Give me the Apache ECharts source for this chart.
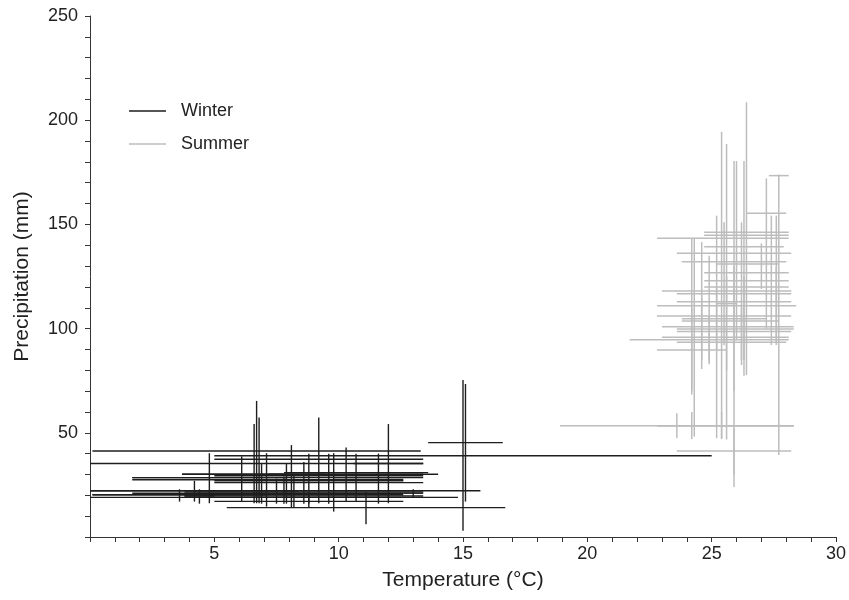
<!DOCTYPE html>
<html>
<head>
<meta charset="utf-8">
<script src="https://cdn.jsdelivr.net/npm/echarts@6/dist/echarts.min.js"></script>
<style>
  html, body { margin: 0; padding: 0; background: #fff; }
  #chart { width: 849px; height: 600px; }
</style>
</head>
<body>
<div id="chart"></div>
<script>
// winter: centre temperature / precipitation and their ranges
const winterTemp      = [15.1, 6.7, 15.0, 9.2, 6.8, 10.7, 8.8, 9.6, 7.1, 6.9, 8.6, 9.8, 8.1, 8.2, 7.5, 6.1, 7.8, 7.9, 11.1, 12.0, 11.6, 10.3, 4.8, 3.6, 4.2, 4.4, 13.0, 8.8, 6.6];
const winterPrecip    = [45.3, 41.3, 39.0, 37.3, 35.3, 30.9, 30.1, 29.4, 28.5, 27.5, 27.0, 26.1, 22.2, 21.6, 21.0, 20.3, 19.7, 19.0, 14.1, 35.3, 28.5, 30.1, 28.5, 20.3, 22.2, 19.7, 21.0, 17.1, 30.1];
const winterTempMin   = [13.6, 0.1, 5.0, 5.0, 0.0, 7.8, 3.7, 5.0, 1.7, 1.7, 5.0, 5.0, 0.0, 3.8, 1.7, 0.1, 3.8, 0.0, 5.5, 10.6, 9.8, 7.2, 1.7, 0.1, 0.0, 3.8, 12.6, 5.0, 3.7];
const winterTempMax   = [16.6, 13.3, 25.0, 13.4, 13.4, 13.6, 14.0, 13.4, 12.6, 12.6, 12.6, 13.4, 15.7, 13.4, 12.6, 12.6, 13.4, 14.8, 16.7, 13.4, 13.4, 13.4, 7.9, 7.1, 8.4, 5.0, 13.4, 12.6, 9.5];
const winterPrecipMin = [17.0, 16.2, 3.0, 16.2, 16.2, 17.0, 16.0, 16.0, 14.6, 16.0, 16.0, 12.2, 14.1, 14.0, 16.0, 17.0, 16.0, 16.0, 6.1, 16.2, 16.0, 17.0, 16.2, 17.0, 17.0, 16.0, 19.0, 14.0, 16.2];
const winterPrecipMax = [73.4, 65.3, 75.3, 57.4, 57.4, 40.0, 40.0, 40.0, 40.2, 35.0, 36.0, 40.2, 44.1, 30.0, 28.0, 38.7, 29.0, 35.0, 21.7, 54.2, 40.0, 43.0, 40.2, 22.9, 27.0, 22.9, 22.9, 20.0, 54.2];

// summer
const summerTemp      = [27.7, 26.4, 27.4, 27.6, 24.2, 27.0, 24.6, 24.9, 25.6, 27.2, 25.4, 25.9, 24.3, 25.2, 26.3, 25.5, 26.2, 26.0, 25.2, 26.3, 25.6, 24.6, 25.9, 26.2, 24.9, 27.6, 24.2, 23.6, 24.2, 25.4, 25.9];
const summerPrecip    = [173.4, 155.3, 146.2, 144.8, 143.3, 139.3, 136.1, 132.1, 131.0, 126.8, 123.0, 120.0, 118.0, 116.7, 112.9, 112.0, 111.0, 106.0, 104.7, 103.7, 100.9, 99.8, 98.6, 95.8, 94.7, 93.5, 89.7, 53.4, 53.4, 53.4, 41.3];
const summerTempMin   = [27.3, 26.4, 24.7, 24.7, 22.8, 24.7, 23.6, 23.8, 25.2, 24.7, 24.7, 24.7, 23.0, 23.6, 23.6, 25.2, 22.8, 22.8, 23.8, 23.8, 23.0, 23.6, 23.6, 23.0, 21.7, 23.6, 22.8, 18.9, 22.8, 22.8, 23.6];
const summerTempMax   = [28.1, 28.0, 28.1, 28.1, 28.1, 27.9, 28.2, 28.0, 27.7, 28.1, 28.1, 28.1, 28.2, 28.2, 28.2, 26.0, 28.4, 28.2, 27.2, 27.7, 28.3, 28.3, 28.2, 28.1, 28.1, 28.0, 25.6, 28.3, 28.3, 28.3, 28.2];
const summerPrecipMin = [39.3, 77.7, 92.1, 92.1, 68.4, 119.0, 80.6, 82.9, 46.8, 100.0, 47.4, 24.0, 48.2, 47.4, 77.4, 92.0, 82.5, 95.0, 90.0, 85.0, 80.0, 85.0, 70.0, 85.0, 84.0, 93.0, 70.0, 47.4, 47.0, 47.0, 30.0];
const summerPrecipMax = [174.0, 208.6, 154.2, 154.2, 143.3, 140.9, 141.5, 135.0, 188.6, 172.1, 194.5, 180.4, 143.3, 154.2, 180.4, 151.0, 151.0, 180.4, 120.0, 125.0, 125.0, 115.0, 130.0, 110.0, 106.0, 130.0, 110.0, 59.4, 60.0, 60.0, 52.0];

function buildData(t, p, tMin, tMax, pMin, pMax) {
  return t.map((v, i) => [v, p[i], tMin[i], tMax[i], pMin[i], pMax[i]]);
}

function renderCross(params, api) {
  const x = api.value(0);
  const y = api.value(1);
  const h1 = api.coord([api.value(2), y]);
  const h2 = api.coord([api.value(3), y]);
  const v1 = api.coord([x, api.value(4)]);
  const v2 = api.coord([x, api.value(5)]);
  const style = { stroke: api.visual('color'), lineWidth: params.seriesName === 'Winter' ? 1.4 : 1.5 };
  return {
    type: 'group',
    children: [
      { type: 'line', shape: { x1: h1[0], y1: h1[1], x2: h2[0], y2: h2[1] }, style: style },
      { type: 'line', shape: { x1: v1[0], y1: v1[1], x2: v2[0], y2: v2[1] }, style: style }
    ]
  };
}

const chart = echarts.init(document.getElementById('chart'));
const font = '"Liberation Sans", Arial, sans-serif';

const option = {
  animation: false,
  textStyle: { fontFamily: font },
  grid: { left: 90, right: 13, top: 16, bottom: 63 },
  legend: {
    data: ['Winter', 'Summer'],
    orient: 'vertical',
    left: 129,
    top: 102,
    padding: 0,
    itemWidth: 37,
    itemHeight: 1.5,
    itemGap: 15,
    icon: 'rect',
    textStyle: { fontSize: 18, color: '#222', fontFamily: font, padding: [0, 0, 0, 10] }
  },
  xAxis: {
    type: 'value',
    min: 0,
    max: 30,
    interval: 5,
    name: 'Temperature (°C)',
    nameLocation: 'middle',
    nameGap: 33,
    nameTextStyle: { fontSize: 21, color: '#222', fontFamily: font },
    axisLine: { lineStyle: { color: '#333', width: 1 } },
    axisTick: { length: 5, lineStyle: { color: '#333' } },
    minorTick: { show: true, splitNumber: 5, length: 5, lineStyle: { color: '#333' } },
    splitLine: { show: false },
    axisLabel: {
      fontSize: 18, color: '#222', margin: 8,
      formatter: v => (v === 0 ? '' : String(v))
    }
  },
  yAxis: {
    type: 'value',
    min: 0,
    max: 250,
    interval: 50,
    name: 'Precipitation (mm)',
    nameLocation: 'middle',
    nameGap: 57,
    nameTextStyle: { fontSize: 21, color: '#222', fontFamily: font },
    axisLine: { show: true, lineStyle: { color: '#333', width: 1 } },
    axisTick: { show: true, length: 5, lineStyle: { color: '#333' } },
    minorTick: { show: true, splitNumber: 5, length: 5, lineStyle: { color: '#333' } },
    splitLine: { show: false },
    axisLabel: {
      fontSize: 18, color: '#222', margin: 12,
      formatter: v => (v === 0 ? '' : String(v))
    }
  },
  series: [
    {
      name: 'Summer',
      type: 'custom',
      renderItem: renderCross,
      itemStyle: { color: '#bdbdbd' },
      encode: { x: 0, y: 1 },
      data: buildData(summerTemp, summerPrecip, summerTempMin, summerTempMax, summerPrecipMin, summerPrecipMax)
    },
    {
      name: 'Winter',
      type: 'custom',
      renderItem: renderCross,
      itemStyle: { color: '#1e1e1e' },
      encode: { x: 0, y: 1 },
      data: buildData(winterTemp, winterPrecip, winterTempMin, winterTempMax, winterPrecipMin, winterPrecipMax)
    }
  ]
};

chart.setOption(option);
</script>
</body>
</html>
